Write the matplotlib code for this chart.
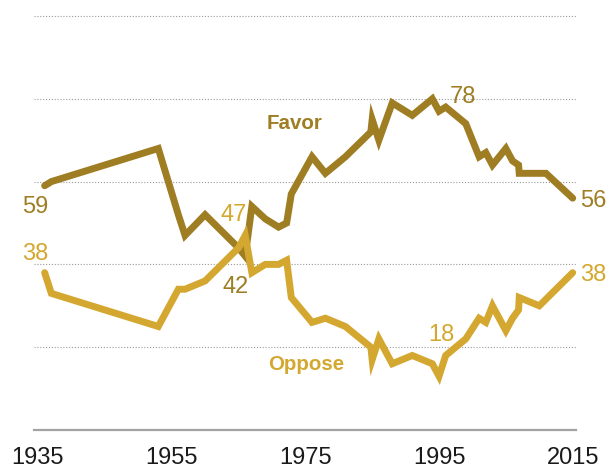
import matplotlib
matplotlib.use("Agg")
from matplotlib import pyplot as plt

# values (percent)
fav_years = [1936, 1937, 1953, 1956, 1957, 1960, 1965, 1966, 1967, 1969, 1971, 1972.2, 1972.9,
             1976, 1978, 1981, 1984.8, 1985.0, 1986, 1988, 1991, 1994, 1995, 1996, 1999,
             2001, 2002, 2003, 2005, 2006, 2006.9, 2007, 2011, 2015]
favor = [59, 60, 68, 52, 47, 52, 44, 42, 54, 51, 49, 50, 57,
         66, 62, 66, 72, 75, 70, 79, 76, 80, 77, 78, 74,
         66, 67, 64, 68, 65, 64, 62, 62, 56]

opp_years = [1936, 1937, 1953, 1956, 1957, 1960, 1965, 1966, 1967, 1969, 1971, 1972.2, 1972.9,
             1976, 1978, 1981, 1984.8, 1985.0, 1986, 1988, 1991, 1994, 1995, 1996, 1999,
             2001, 2002, 2003, 2005, 2006, 2006.9, 2007, 2010, 2015]
oppose = [38, 33, 25, 34, 34, 36, 44, 47, 38, 40, 40, 41, 32,
          26, 27, 25, 20, 17, 22, 16, 18, 16, 13, 18, 22,
          27, 26, 30, 24, 27, 29, 32, 30, 38]

tick_years = [1935, 1955, 1975, 1995, 2015]
grid_vals = [20, 40, 60, 80, 100]

FAV_C = "#9E7D23"
OPP_C = "#D4A830"
FONT = "Liberation Sans"

fig = plt.figure(figsize=(6.1, 4.69), dpi=100)
ax = fig.add_axes([34.3 / 610, 39 / 469, 541.4 / 610, 414 / 469])
ax.set_xlim(1934.45, 2015.45)
ax.set_ylim(0, 100)

for v in grid_vals:
    ax.axhline(v, color="#9a9a9a", lw=0.8, ls=(0, (1, 1.6)), zorder=1, clip_on=False)
ax.axhline(0, color="#a3a3a3", lw=1.6, zorder=1, clip_on=False)

line_kw = dict(lw=5, solid_capstyle="round", solid_joinstyle="miter", clip_on=False)
ax.plot(fav_years, favor, color=FAV_C, zorder=3, **line_kw)
ax.plot(opp_years, oppose, color=OPP_C, zorder=4, **line_kw)

# point labels (index into series, offset in points)
def label(years, vals, i, color, dx, dy, ha="center"):
    ax.annotate(f"{vals[i]}", (years[i], vals[i]), textcoords="offset points",
                xytext=(dx, dy), ha=ha, va="baseline", color=color,
                fontsize=17, family=FONT, zorder=5)

label(fav_years, favor, 0, FAV_C, -6.8, -19.9)
label(opp_years, oppose, 0, OPP_C, -6.5, 9.1)
label(opp_years, oppose, 7, OPP_C, -8.2, 10.6)
label(fav_years, favor, 7, FAV_C, -6.6, -26.4)
label(fav_years, favor, 23, FAV_C, 12.2, 3.2)
label(opp_years, oppose, 23, OPP_C, -3.3, 10.7)
label(fav_years, favor, -1, FAV_C, 5.3, -6.6, ha="left")
label(opp_years, oppose, -1, OPP_C, 5.3, -5.8, ha="left")

ax.text(1973.45, 72.6, "Favor", color=FAV_C, fontsize=14.8, fontweight="bold",
        family=FONT, ha="center", va="baseline")
ax.text(1975.2, 14.5, "Oppose", color=OPP_C, fontsize=14.8, fontweight="bold",
        family=FONT, ha="center", va="baseline")

ax.set_xticks(tick_years)
ax.set_xticklabels([str(y) for y in tick_years], fontsize=17, family=FONT, color="#1a1a1a")
ax.tick_params(axis="x", length=0, pad=12)
ax.set_yticks([])
for s in ax.spines.values():
    s.set_visible(False)

fig.savefig("out.png", dpi=100)
